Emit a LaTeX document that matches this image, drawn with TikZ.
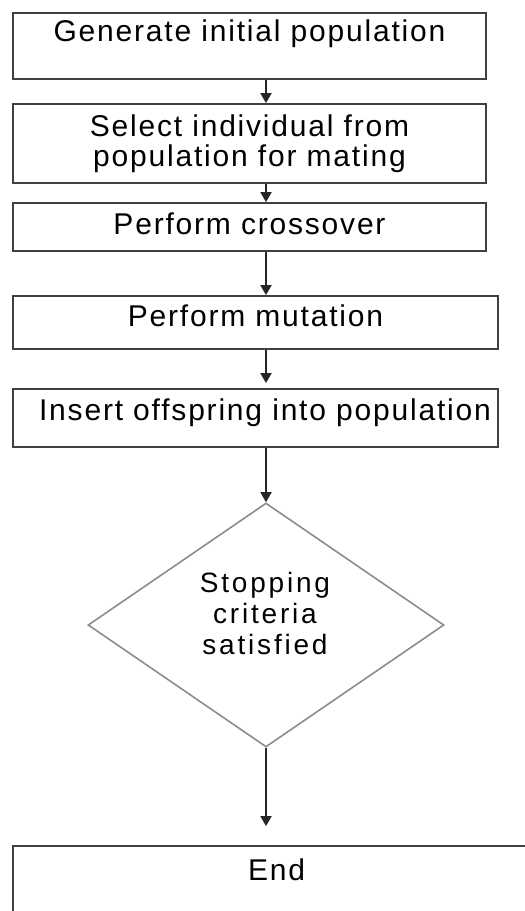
\documentclass[tikz,border=0pt]{standalone}
\usepackage{fontspec}
\newfontfamily\flowfont[LetterSpace=6]{Liberation Sans}
\newfontfamily\askfont[LetterSpace=10]{Liberation Sans}
\usetikzlibrary{shapes.geometric,arrows.meta}
\begin{document}
\begin{tikzpicture}[x=1bp,y=-1bp,declare function={xl=249.5; xw=255.5;},
	every node/.style={font=\flowfont\fontsize{30bp}{30bp}\selectfont},
	proc/.style={draw=black!75,line width=1.8bp,inner sep=0pt,align=center},
	decide/.style={diamond,draw=black!45,line width=1.6bp,inner sep=0pt,minimum width=356bp,minimum height=244bp},
	flow/.style={-{Triangle[width=11bp,length=10bp]},line width=1.8bp,black!85}]
	\useasboundingbox (0,0) rectangle (525,911);
	\node[proc,minimum width=473bp,minimum height=66bp,text height=22bp,text depth=32bp] (gen) at (xl,46) {Generate initial population};
	\node[proc,minimum width=473bp,minimum height=79bp] (sel) at (xl,143.5) {Select individual from\\population for mating};
	\node[proc,minimum width=473bp,minimum height=48bp,text height=22bp,text depth=8bp] (cross) at (xl,227) {Perform crossover};
	\node[proc,minimum width=485bp,minimum height=53bp,text height=22bp,text depth=13.6bp] (mut) at (xw,322.5) {Perform mutation};
	\node[proc,minimum width=485bp,minimum height=58bp,text height=22bp,text depth=18bp] (ins) at (xw,418) {\hspace*{19bp}Insert offspring into population};
	\node[decide] (stop) at (266,625) {};
	\node[align=center,font=\askfont\fontsize{28bp}{31bp}\selectfont] (stoptext) at (265,613) {Stopping\\criteria\\satisfied};
	\node[proc,minimum width=527bp,minimum height=104bp,text height=22bp,text depth=58bp] (fin) at (276.5,898) {End};
	\draw[flow] (gen.south -| stop.north) -- (sel.north -| stop.north);
	\draw[flow] (sel.south -| stop.north) -- (cross.north -| stop.north);
	\draw[flow] (cross.south -| stop.north) -- (mut.north -| stop.north);
	\draw[flow,shorten >=5bp] (mut.south -| stop.north) -- (ins.north -| stop.north);
	\draw[flow] (ins.south -| stop.north) -- (stop.north);
	\draw[flow,shorten >=19bp] (stop.south) -- (fin.north -| stop.south);
\end{tikzpicture}
\end{document}
